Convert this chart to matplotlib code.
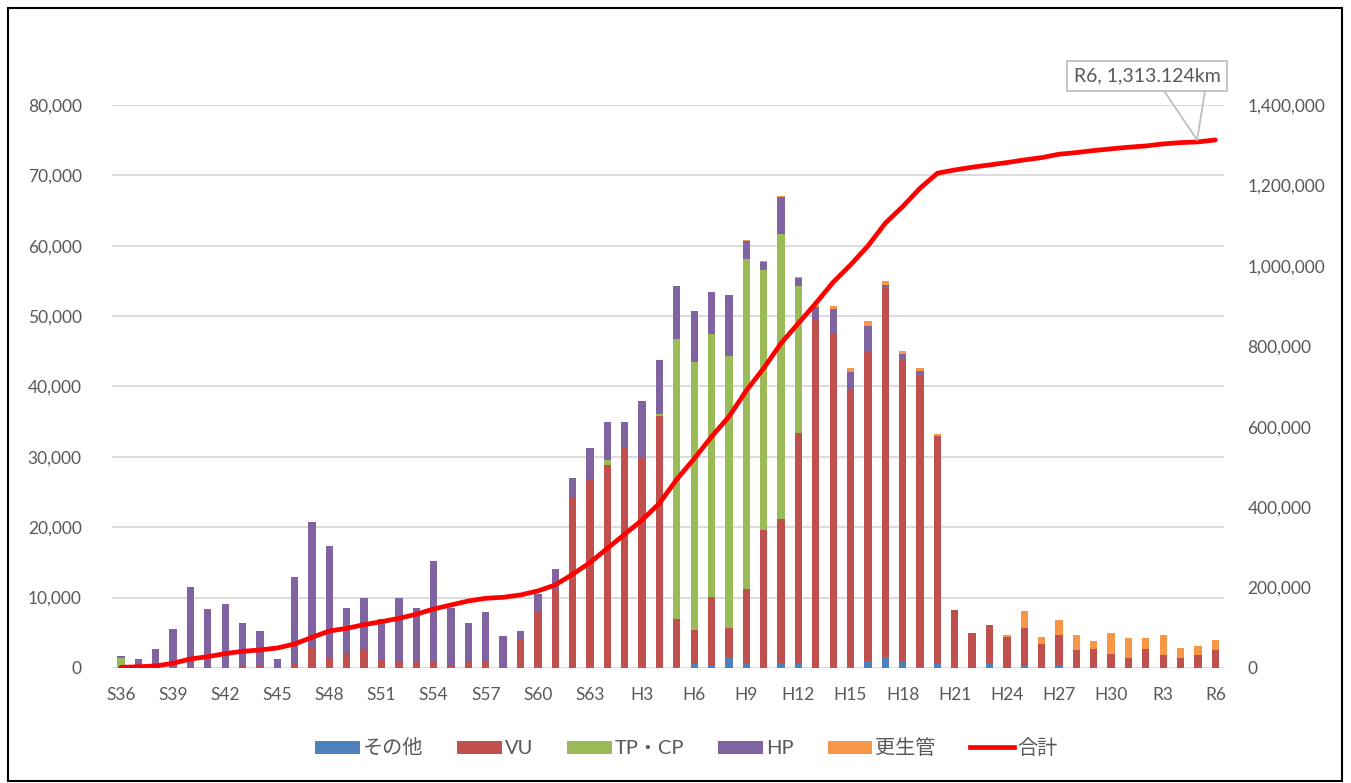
import matplotlib
matplotlib.use("Agg")
import matplotlib.pyplot as plt
from matplotlib.patches import Patch, Rectangle
from matplotlib.lines import Line2D
from matplotlib.ticker import FuncFormatter
import numpy as np

plt.rcParams['font.family'] = ['Lato', 'Noto Sans CJK JP', 'DejaVu Sans']

# --- data (m per year), S36 .. R6 ---
years = ([f"S{n}" for n in range(36, 64)] + [f"H{n}" for n in range(1, 31)]
         + [f"R{n}" for n in range(1, 7)])

other = [0, 0, 0, 0, 0, 0, 0, 0, 0, 0,
         0, 0, 0, 0, 0, 0, 0, 0, 0, 0,
         0, 0, 0, 0, 0, 0, 0, 0, 0, 0,
         0, 150, 200, 570, 330, 1420, 570, 0, 710, 570,
         0, 0, 200, 1040, 1520, 810, 100, 570, 0, 0,
         620, 0, 240, 0, 380, 0, 0, 0, 0, 0,
         0, 0, 0, 0]
vu = [0, 0, 0, 0, 0, 0, 0, 300, 300, 200,
      650, 2900, 1450, 2100, 2500, 1100, 950, 800, 800, 430,
      950, 950, 0, 4050, 8000, 11050, 24100, 26850, 28900, 31300,
      29900, 35700, 6700, 4800, 9720, 4310, 10660, 19620, 20430, 32790,
      49480, 47390, 39330, 43940, 52460, 42980, 41460, 32370, 8200, 4950,
      5530, 4420, 5390, 3370, 4240, 2550, 2690, 1970, 1440, 2690,
      1830, 1440, 1830, 2550]
tpcp = [1450, 0, 0, 0, 0, 0, 0, 0, 0, 0,
        0, 0, 0, 0, 0, 0, 0, 0, 0, 0,
        0, 0, 0, 0, 0, 0, 0, 0, 650, 0,
        0, 300, 39800, 38100, 37340, 38580, 46830, 36870, 40520, 20910,
        0, 0, 0, 0, 0, 0, 0, 0, 0, 0,
        0, 0, 0, 0, 0, 0, 0, 0, 0, 0,
        0, 0, 0, 0]
hp = [250, 1300, 2650, 5500, 11450, 8350, 9050, 6150, 4950, 1100,
      12300, 17800, 15950, 6400, 7400, 5850, 8950, 7700, 14400, 8150,
      5500, 7050, 4600, 1200, 2450, 2950, 2930, 4350, 5350, 3600,
      8070, 7650, 7600, 7200, 6020, 8720, 2550, 1230, 5310, 1180,
      1800, 3610, 2510, 3600, 470, 850, 570, 0, 0, 0,
      0, 0, 0, 0, 0, 0, 0, 0, 0, 0,
      0, 0, 0, 0]
renew = [0, 0, 0, 0, 0, 0, 0, 0, 0, 0,
         0, 0, 0, 0, 0, 0, 0, 0, 0, 0,
         0, 0, 0, 0, 0, 0, 0, 0, 0, 0,
         0, 0, 0, 0, 0, 0, 150, 150, 140, 140,
         330, 370, 570, 660, 530, 340, 480, 240, 0, 0,
         0, 200, 2450, 1010, 2210, 2070, 1200, 2980, 2790, 1540,
         2880, 1400, 1340, 1390]
total = [1700, 3000, 5000, 11700, 22400, 28200, 35700, 41500, 44800, 49700,
         59700, 76300, 92000, 98600, 107700, 115200, 123500, 133500, 146700, 156700,
         166600, 173300, 175800, 181600, 191500, 206400, 233000, 262000, 297600, 332500,
         368100, 409600, 469300, 520500, 575200, 625000, 689700, 745300, 807500, 857300,
         907000, 959200, 1002300, 1049500, 1106000, 1147300, 1193000, 1230300, 1238500, 1245200,
         1251000, 1256800, 1263400, 1269200, 1277600, 1281700, 1286700, 1291000, 1295000, 1298200,
         1303200, 1306500, 1308200, 1313124]

series = [("その他", other, "#4F81BD"),
          ("VU", vu, "#C0504D"),
          ("TP・CP", tpcp, "#9BBB59"),
          ("HP", hp, "#8064A2"),
          ("更生管", renew, "#F79646")]

fig = plt.figure(figsize=(13.51, 7.83), dpi=100)
ax = fig.add_axes([0.0831, 0.1469, 0.8229, 0.7190])
ax2 = ax.twinx()

x = np.arange(len(years))
bottom = np.zeros(len(years))
handles = []
for name, vals, col in series:
    ax.bar(x, vals, 0.42, bottom=bottom, color=col, zorder=3)
    bottom += np.array(vals)
    handles.append(Patch(facecolor=col, label=name))

ax2.plot(x, total, color="#FF0000", lw=3.4, solid_capstyle="round", zorder=4)
handles.append(Line2D([], [], color="#FF0000", lw=3.4, label="合計"))

ax.set_xlim(-0.5, len(years) - 0.5)
ax.set_ylim(0, 80000)
ax2.set_ylim(0, 1400000)
ax.set_yticks(np.arange(0, 80001, 10000))
ax2.set_yticks(np.arange(0, 1400001, 200000))
fmt = FuncFormatter(lambda v, p: f"{int(v):,}")
ax.yaxis.set_major_formatter(fmt)
ax2.yaxis.set_major_formatter(fmt)
ax.set_xticks(x[::3])
ax.set_xticklabels(years[::3])

ax.grid(axis="y", color="#D9D9D9", lw=1.3, zorder=0)
ax.set_axisbelow(True)
for a in (ax, ax2):
    for s in a.spines.values():
        s.set_visible(False)
    a.tick_params(length=0, labelsize=12.5, colors="#595959")
ax.tick_params(axis="y", pad=22)
ax.tick_params(axis="x", pad=14)
ax2.tick_params(axis="y", pad=17)
ax2.patch.set_visible(False)

# callout for the last value
ax2.text(59.07, 1472000, "R6, 1,313.124km", ha="center", va="center",
         fontsize=14, color="#595959", clip_on=False, zorder=6,
         bbox=dict(boxstyle="square,pad=0.35", fc="white", ec="#BFBFBF", lw=1.3))
ax2.plot([60.1, 61.95, 62.4], [1432000, 1313000, 1432000], color="#BFBFBF",
         lw=1.3, clip_on=False, zorder=5)

fig.legend(handles=handles, loc="center", bbox_to_anchor=(0.508, 0.045), ncol=6,
           frameon=False, fontsize=14.5, handlelength=2.2, handleheight=0.6,
           columnspacing=1.7, handletextpad=0.15, labelcolor="#595959")

fig.patches.append(Rectangle((0.006, 0.002), 0.987, 0.988, transform=fig.transFigure,
                             fill=False, ec="black", lw=1.5))

fig.savefig("out.png", dpi=100)
